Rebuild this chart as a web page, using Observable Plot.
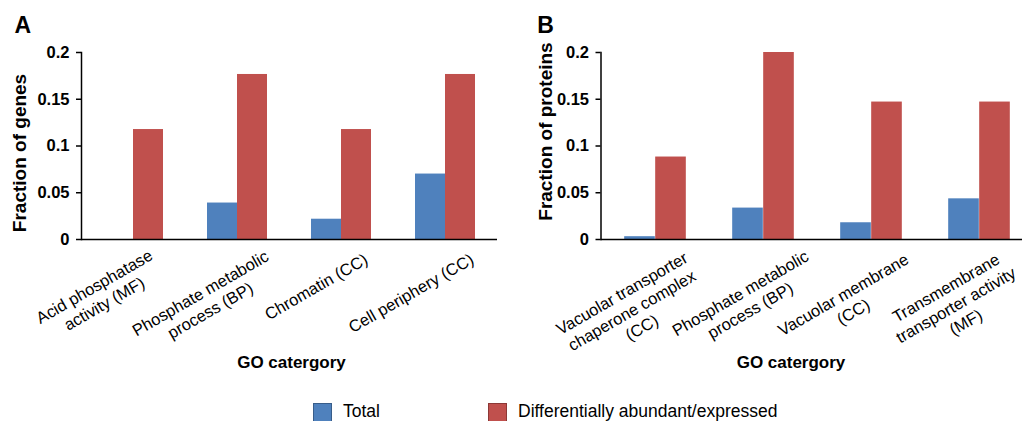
<!DOCTYPE html>
<html><head><meta charset="utf-8">
<script src="https://cdn.jsdelivr.net/npm/d3@7"></script>
<script src="https://cdn.jsdelivr.net/npm/@observablehq/plot@0.6"></script>
<style>
body{margin:0;background:#fff;}
#wrap{position:relative;width:1022px;height:421px;overflow:hidden;font-family:"Liberation Sans",Arial,sans-serif;background:#fff;}
.panel{position:absolute;top:0;}
.sw{position:absolute;width:19px;height:20px;box-sizing:border-box;border:1px solid;}
.lt{position:absolute;font-size:17.5px;line-height:20px;color:#000;white-space:nowrap;}
</style></head><body><div id="wrap"></div>
<script>
// ---- data ----
const seriesNames = ["Total", "Differentially abundant/expressed"];
const seriesColors = ["#4F81BD", "#C0504D"];
const seriesBorders = ["#385D8A", "#8C3836"];
const catsA = ["Acid phosphatase\nactivity (MF)", "Phosphate metabolic\nprocess (BP)", "Chromatin (CC)", "Cell periphery (CC)"];
const totalA = [0, 0.039, 0.0217, 0.070];
const diffA = [0.1176, 0.1765, 0.1176, 0.1765];
const catsB = ["Vacuolar transporter\nchaperone complex\n(CC)", "Phosphate metabolic\nprocess (BP)", "Vacuolar membrane\n(CC)", "Transmembrane\ntransporter activity\n(MF)"];
const totalB = [0.003, 0.0336, 0.0179, 0.0435];
const diffB = [0.0882, 0.2, 0.147, 0.147];
const yTicks = [0, 0.05, 0.1, 0.15, 0.2];
const yTickLabels = ["0", "0.05", "0.1", "0.15", "0.2"];
const panelLetters = ["A", "B"];
const yTitles = ["Fraction of genes", "Fraction of proteins"];
const xTitle = "GO catergory";

// ---- layout ----
const H = 421;
const layoutA = {left: 0, width: 510, mL: 81, mR: 13, mT: 52, mB: 182, barW: 30,
  labelEnds: [[14, 247], [26, 248], [21, 251], [23, 251]],
  yTitle: [19, 152.5], letter: [14, 25], xTitleC: [291, 362.5]};
const layoutB = {left: 510, width: 540, mL: 90.5, mR: 16, mT: 52, mB: 182, barW: 31,
  labelEnds: [[27, 249.5], [40, 248], [32, 251], [15, 251]],
  yTitle: [35, 131], letter: [26.7, 25], xTitleC: [280.5, 362.5]};
const labelFs = 16.5, labelLh = 1.2;

const ctx = document.createElement("canvas").getContext("2d");
ctx.font = `${labelFs}px "Liberation Sans"`;

function panel(cats, total, diff, letter, yTitle, L) {
  const data = cats.flatMap((c, i) => [
    {cat: c, s: 0, v: total[i]},
    {cat: c, s: 1, v: diff[i]}
  ]);
  const bw = (L.width - L.mL - L.mR) / cats.length;
  const fb = H - L.mB; // frame bottom
  const fcx = (L.mL + L.width - L.mR) / 2;
  const fcy = (L.mT + fb) / 2;
  const labelMarks = cats.map((c, i) => {
    const lines = c.split("\n");
    const W1 = ctx.measureText(lines[0]).width;
    const n = lines.length;
    const [ex, ey] = L.labelEnds[i];
    const a = -W1 / 2, b = 0.4 * labelFs + (n - 1) / 2 * labelLh * labelFs;
    const cx = ex + 0.866 * a + 0.5 * b;
    const cy = ey - 0.5 * a + 0.866 * b;
    return Plot.text([c], {x: d => d, text: d => d, frameAnchor: "bottom", rotate: -30,
      textAnchor: "middle", lineAnchor: "middle", lineHeight: labelLh, fontSize: labelFs,
      fill: "#000", dx: cx, dy: cy - fb});
  });
  return Plot.plot({
    width: L.width, height: H,
    marginLeft: L.mL, marginRight: L.mR, marginTop: L.mT, marginBottom: L.mB,
    style: {fontFamily: '"Liberation Sans", Arial, sans-serif', color: "#000", background: "transparent", overflow: "visible"},
    x: {type: "band", domain: cats, padding: 0, axis: null},
    y: {domain: [0, 0.2], axis: null},
    marks: [
      Plot.barY(data.filter(d => d.s === 0), {x: "cat", y: "v", fill: seriesColors[0], insetLeft: bw / 2 - L.barW, insetRight: bw / 2}),
      Plot.barY(data.filter(d => d.s === 1), {x: "cat", y: "v", fill: seriesColors[1], insetLeft: bw / 2, insetRight: bw / 2 - L.barW}),
      Plot.ruleY([0], {stroke: "#000", strokeWidth: 1.5}),
      Plot.frame({anchor: "left", stroke: "#000", strokeWidth: 1.5}),
      Plot.axisY({ticks: yTicks, tickFormat: d => yTickLabels[yTicks.indexOf(d)], tickSize: 5, tickPadding: 7,
        fontSize: 16.5, fontWeight: "bold", stroke: "#000", strokeWidth: 1.5, fill: "#000", label: null}),
      ...labelMarks,
      Plot.text([yTitle], {text: d => d, frameAnchor: "left", rotate: -90, textAnchor: "middle", lineAnchor: "middle",
        fontSize: 19, fontWeight: "bold", fill: "#000", dx: L.yTitle[0] - L.mL, dy: L.yTitle[1] - fcy}),
      Plot.text([letter], {text: d => d, frameAnchor: "top-left", textAnchor: "start", lineAnchor: "middle",
        fontSize: 23, fontWeight: "bold", fill: "#000", dx: L.letter[0] - L.mL, dy: L.letter[1] - L.mT}),
      Plot.text([xTitle], {text: d => d, frameAnchor: "bottom", textAnchor: "middle", lineAnchor: "middle",
        fontSize: 17, fontWeight: "bold", fill: "#000", dx: L.xTitleC[0] - fcx, dy: L.xTitleC[1] - fb})
    ]
  });
}

const wrap = document.getElementById("wrap");
[[catsA, totalA, diffA, layoutA], [catsB, totalB, diffB, layoutB]].forEach(([c, t, d, L], k) => {
  const svg = panel(c, t, d, panelLetters[k], yTitles[k], L);
  svg.classList.add("panel");
  svg.style.left = L.left + "px";
  wrap.appendChild(svg);
});

// legend
const legendPos = [[313, 343], [488, 518]];
seriesNames.forEach((name, i) => {
  const sw = document.createElement("div");
  sw.className = "sw";
  sw.style.left = legendPos[i][0] + "px";
  sw.style.top = "403px";
  sw.style.background = seriesColors[i];
  sw.style.borderColor = seriesBorders[i];
  wrap.appendChild(sw);
  const t = document.createElement("div");
  t.className = "lt";
  t.style.left = legendPos[i][1] + "px";
  t.style.top = "401px";
  t.textContent = name;
  wrap.appendChild(t);
});
</script></body></html>
